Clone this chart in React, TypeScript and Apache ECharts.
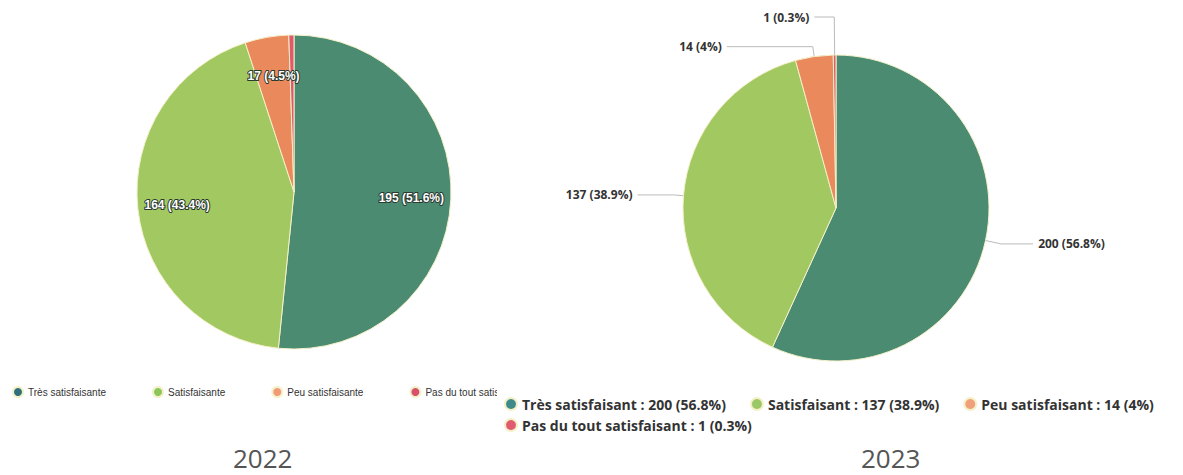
import React, { useEffect, useRef } from "react";
import * as echarts from "echarts";

const names2022 = ["Très satisfaisante", "Satisfaisante", "Peu satisfaisante", "Pas du tout satisfaisante"];
const values2022 = [195, 164, 17, 2];
const names2023 = ["Très satisfaisant", "Satisfaisant", "Peu satisfaisant", "Pas du tout satisfaisant"];
const values2023 = [200, 137, 14, 1];
const sliceColors = ["#4a8b72", "#a2c862", "#ea895c", "#e05a6e"];
const legendColors2022 = ["#2f6f7e", "#8cc55a", "#f09a78", "#d9506c"];
const legendColors2023 = ["#3f8a8a", "#9cc766", "#f0a07a", "#e05a70"];
const labelLines2023 = [
  { length: 16, length2: 32 },
  { length: 10, length2: 36 },
  { length: 10, length2: 86 },
  { length: 38, length2: 20 },
];

const fmtPct = (p: number) => {
  const r = Math.round(p * 10) / 10;
  return String(r);
};

function useChart(build: () => any) {
  const ref = useRef<HTMLDivElement>(null);
  useEffect(() => {
    if (!ref.current) return;
    const chart = echarts.init(ref.current, undefined, { renderer: "svg" });
    chart.setOption(build());
    return () => chart.dispose();
  }, []);
  return ref;
}

const titleStyle = { color: "#555", fontSize: 26, fontWeight: "normal", fontFamily: "Open Sans" };

function Chart2022() {
  const ref = useChart(() => {
    const data = names2022.map((n, i) => ({
      name: n,
      value: values2022[i],
      itemStyle: { color: sliceColors[i] },
    }));
    return {
      animation: false,
      title: { text: "2022", left: 228, top: 440, textStyle: titleStyle },
      legend: {
        type: "plain",
        orient: "horizontal",
        left: 7,
        top: 381,
        width: 900,
        itemGap: 46,
        itemWidth: 10,
        itemHeight: 10,
        icon: "circle",
        textStyle: { color: "#333", fontSize: 10, fontFamily: "Liberation Sans" },
        data: names2022.map((n, i) => ({ name: n, itemStyle: { color: legendColors2022[i] } })),
      },
      series: [
        {
          type: "pie",
          center: [294, 192],
          radius: [0, 157],
          startAngle: 90,
          clockwise: true,
          data,
          itemStyle: { borderColor: "#f4f0c8", borderWidth: 1 },
          label: { show: false },
          labelLine: { show: false },
        },
        {
          type: "pie",
          center: [294, 192],
          radius: [72, 157],
          startAngle: 90,
          clockwise: true,
          silent: true,
          legendHoverLink: false,
          data: names2022.map((n, i) => ({
            name: n,
            value: values2022[i],
            itemStyle: { color: "rgba(0,0,0,0)" },
            label: { show: i < 3 },
          })),
          label: {
            show: true,
            position: "inside",
            formatter: (p: any) => `${p.value} (${fmtPct(p.percent)}%)`,
            color: "#fff",
            fontSize: 12,
            fontWeight: "bold",
            fontFamily: "Liberation Sans",
            textBorderColor: "#2a3a30",
            textBorderWidth: 2,
          },
          labelLine: { show: false },
        },
      ],
    };
  });
  return <div ref={ref} style={{ position: "absolute", left: 0, top: 0, width: 497, height: 475 }} />;
}

function Chart2023() {
  const ref = useChart(() => {
    const total = values2023.reduce((a, b) => a + b, 0);
    const data = names2023.map((n, i) => ({
      name: n,
      value: values2023[i],
      itemStyle: { color: sliceColors[i] },
      labelLine: labelLines2023[i],
    }));
    const legendBase = {
      type: "plain",
      orient: "horizontal",
      left: 2,
      itemGap: 24,
      itemWidth: 12,
      itemHeight: 12,
      icon: "circle",
      formatter: (name: string) => {
        const i = names2023.indexOf(name);
        const v = values2023[i];
        return `${name} : ${v} (${fmtPct((v / total) * 100)}%)`;
      },
      textStyle: { color: "#333", fontSize: 14, fontWeight: "bold", fontFamily: "Open Sans" },
    };
    const legendData = names2023.map((n, i) => ({ name: n, itemStyle: { color: legendColors2023[i] } }));
    return {
      animation: false,
      title: { text: "2023", left: 359, top: 440, textStyle: titleStyle },
      legend: [
        { ...legendBase, top: 392, data: legendData.slice(0, 3) },
        { ...legendBase, top: 413, data: legendData.slice(3) },
      ],
      series: [
        {
          type: "pie",
          center: [339, 208],
          radius: [0, 153],
          startAngle: 90,
          clockwise: true,
          avoidLabelOverlap: false,
          data,
          itemStyle: { borderColor: "#f4f0c8", borderWidth: 1 },
          label: {
            show: true,
            position: "outside",
            formatter: (p: any) => `${p.value} (${fmtPct(p.percent)}%)`,
            color: "#333",
            fontSize: 12,
            fontWeight: "bold",
            fontFamily: "Open Sans",
          },
          labelLine: { show: true, lineStyle: { color: "#bbb", width: 1 } },
        },
      ],
    };
  });
  return <div ref={ref} style={{ position: "absolute", left: 497, top: 0, width: 686, height: 475 }} />;
}

export default function App() {
  return (
    <div style={{ position: "fixed", left: 0, top: 0, width: 1183, height: 475, background: "#fff", overflow: "hidden" }}>
      <Chart2022 />
      <Chart2023 />
    </div>
  );
}
